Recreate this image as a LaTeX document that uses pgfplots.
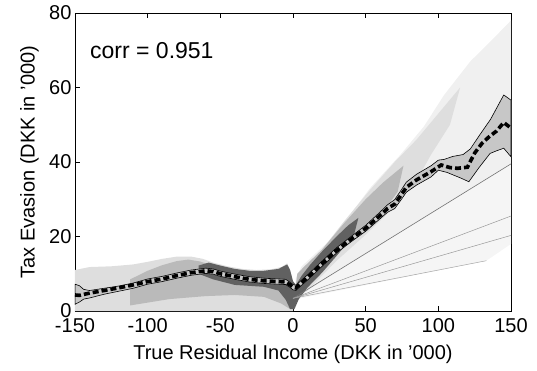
\documentclass[border=0pt]{standalone}
\usepackage{pgfplots}
\pgfplotsset{compat=1.18}
\usepackage{fontspec}
\setmainfont{Liberation Sans}
\begin{document}
\begin{tikzpicture}
\begin{axis}[
  scale only axis, width=436pt, height=298pt,
  xmin=-150, xmax=150, ymin=0, ymax=80,
  axis line style={black, line width=0.8pt},
  tick align=inside, major tick length=5pt,
  tick style={black, line width=0.8pt},
  xtick pos=both, ytick pos=both,
  xticklabel pos=left, yticklabel pos=left,
  xtick={-150,-100,-50,0,50,100,150},
  xticklabels={-150,-100,-50,0,50,100,150},
  ytick={0,20,40,60,80},
  yticklabels={0,20,40,60,80},
  ticklabel style={font=\fontsize{20}{24}\selectfont},
  xticklabel style={yshift=-3.5pt},
  xlabel={True Residual Income (DKK in '000)},
  ylabel={Tax Evasion (DKK in '000)},
  label style={font=\fontsize{20}{24}\selectfont},
  xlabel style={at={(axis description cs:0.5,0)}, anchor=north, inner sep=0pt, yshift=-34pt},
  ylabel style={at={([xshift=-36pt]axis description cs:0,0.5)}, anchor=south, inner sep=0pt},
  clip=true,
]
% ---- sparse scatter cloud, left
\addplot[draw=none, fill=black!13] coordinates {
(-150,0) (-150,11) (-140,11.8) (-125,12) (-110,12.5) (-100,13.2) (-90,14) (-80,14.6) (-70,14.6)
(-62,14) (-55,13) (-45,12) (-35,11.3) (-25,11) (-15,11.2) (-8,11.8) (-4,12.8) (-2,11) (0,8) (0,0)} -- cycle;
% ---- denser scatter cloud, left
\addplot[draw=none, fill=black!27] coordinates {
(-112,1.5) (-112,8.5) (-100,10.8) (-90,12.3) (-80,13.4) (-72,13.8) (-64,13.3) (-56,12.3) (-45,11.2)
(-30,10.3) (-15,10.3) (-5,11.5) (-1,9) (0,4) (-2,0.5) (-8,2) (-20,3.8) (-40,4.3) (-60,4) (-85,3.2)} -- cycle;
% ---- sparse scatter cloud, right
\addplot[draw=none, fill=black!6] coordinates {
(0,2) (2,9) (6,12) (28,20) (53,33) (74,42) (90,49.5) (104,58) (122,67) (140,74) (150,78) (150,39.5) (0,3)} -- cycle;
\addplot[draw=none, fill=black!4] coordinates {
(0,3) (150,39.5) (150,18) (133,13.5)} -- cycle;
% ---- medium scatter cloud, right
\addplot[draw=none, fill=black!13] coordinates {
(1,3) (3,10) (8,12) (20,16.5) (35,24) (53,32.5) (70,40) (85,46) (100,53) (115,60) (108,50)
(95,42) (85,35) (70,28) (50,20.5) (30,13.5) (10,5.5)} -- cycle;
\addplot[draw=none, fill=black!28] coordinates {
(1,4) (3,10) (8,12) (20,16.5) (35,23.5) (50,30) (62,34.5) (76,39) (72,32)
(60,25.5) (48,21) (35,17) (20,11) (8,6) (2,2)} -- cycle;
% ---- dense dark bands
\addplot[draw=none, fill=black!62] coordinates {
(-65,12.2) (-58,13) (-50,12.2) (-40,11.3) (-30,10.8) (-20,10.8) (-10,11.3) (-4,12.5) (-2,11) (0,8)
(2,7) (6,9.5) (12,12.5) (20,16) (30,20) (38,23) (45,25) (42,20.5) (30,14.8) (20,10.3) (10,6.3)
(4,3.2) (1,0.5) (-2,0.5) (-5,3) (-10,5.5) (-20,6.5) (-40,7) (-55,8.5) (-65,10)} -- cycle;
% ---- rays of points
\addplot[black!55, line width=0.6pt] coordinates {(0,3.4) (150,39.5)};
\addplot[black!40, line width=0.5pt] coordinates {(0,3.4) (150,25.5)};
\addplot[black!40, line width=0.5pt] coordinates {(0,3.4) (150,20.3)};
\addplot[black!35, line width=0.5pt] coordinates {(0,3.4) (133,13.5)};
% ---- confidence band
\addplot[draw=black, line width=0.6pt, fill=black!22] coordinates {
(-150,7.2) (-147,6.8) (-144,5.8) (-140,5.5) (-130,6.1) (-120,6.7) (-110,7.5) (-100,8.6) (-90,9.3)
(-80,10.2) (-70,11) (-60,11.5) (-55,11.3) (-50,10.7) (-40,9.9) (-30,9.2) (-20,8.8) (-10,8.6) (-5,8.5)
(-2,7.7) (0,7.1) (2,6.9) (5,8.0) (10,9.7) (20,13.4) (30,17.0) (40,20.0) (50,23.0) (60,26.6) (65,28.5)
(70,29.9) (75,32.8) (78,34.6) (85,36.7) (95,39.0) (100,40.5) (104,40.7) (110,41.5) (117,42.0)
(122,43.5) (128,47) (136,51.5) (145,58) (150,56.6)
(150,41.4) (145,43.7) (140,43) (135.6,42.3) (128,38.5) (121,34.7) (116,35.6) (106,37.2) (100,37.8)
(95,36) (85,33.8) (78,31.9) (75,30.2) (70,27.5) (65,26.5) (60,24.8) (50,21.4) (40,18.6) (30,15.6)
(20,12.0) (10,8.3) (5,6.6) (2,5.5) (0,5.7) (-2,6.3) (-5,7.1) (-10,7.2) (-20,7.4) (-30,7.8) (-40,8.5)
(-50,9.3) (-55,9.9) (-60,10.1) (-70,9.6) (-80,8.8) (-90,7.9) (-100,7.2) (-110,6.1) (-120,5.3)
(-130,4.5) (-140,3.5) (-144,3.2) (-147,2.4) (-150,1.8)} -- cycle;
% ---- mean line
\addplot[black, line width=3.6pt, dash pattern=on 6pt off 3pt] coordinates {
(-150,4.3) (-147,4.2) (-140,4.8) (-130,5.5) (-120,6.2) (-110,7.0) (-100,7.9) (-90,8.6) (-80,9.5)
(-70,10.3) (-60,10.8) (-55,10.6) (-50,10.0) (-40,9.2) (-30,8.5) (-20,8.1) (-10,7.9) (-5,7.8) (-2,7.0)
(0,6.4) (2,6.2) (5,7.3) (10,9.0) (20,12.7) (30,16.3) (40,19.3) (50,22.2) (60,25.7) (65,27.5) (70,28.7)
(75,31.5) (78,33.2) (85,35.2) (95,37.4) (102,39.2) (108,38.5) (113,38.3) (120,38.6) (125,42.4)
(130,45.0) (135,46.8) (140,48.3) (145,50.6) (150,49.1)};
\node[anchor=base west, inner sep=0pt, font=\fontsize{23}{27}\selectfont] at (axis cs:-139.7,67.8) {corr = 0.951};
\end{axis}
\path[use as bounding box] (current axis.south west) ++(-75pt,-59pt) rectangle ([shift={(26pt,13pt)}]current axis.north east);
\end{tikzpicture}
\end{document}
